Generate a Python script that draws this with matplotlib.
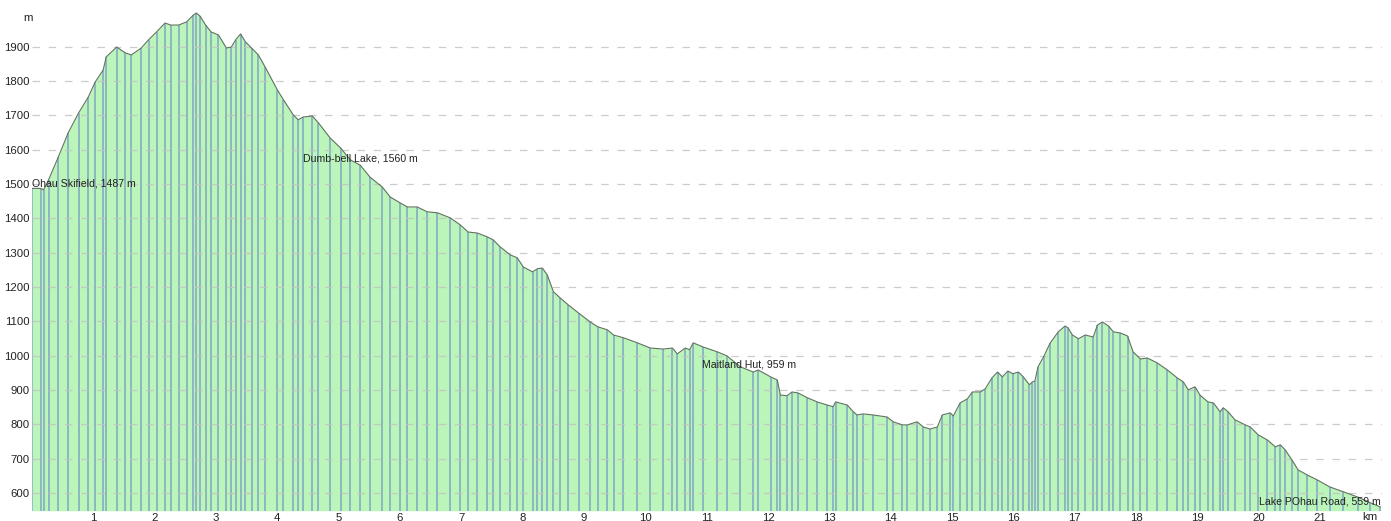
import matplotlib
matplotlib.use('Agg')
import matplotlib.pyplot as plt

plt.rcParams['font.family'] = ['Liberation Sans', 'DejaVu Sans']

# Profil: Distanz (km) und Höhe (m)
dist_km = [0.0, 0.14, 0.19, 0.27, 0.43, 0.59, 0.76, 0.92, 1.03, 1.16,
           1.21, 1.38, 1.52, 1.62, 1.78, 1.90, 2.03, 2.17, 2.26, 2.39,
           2.52, 2.63, 2.68, 2.74, 2.83, 2.92, 3.04, 3.17, 3.25, 3.32,
           3.40, 3.48, 3.58, 3.69, 3.80, 4.00, 4.10, 4.26, 4.34, 4.42,
           4.57, 4.67, 4.86, 5.03, 5.19, 5.35, 5.51, 5.71, 5.84, 6.00,
           6.12, 6.28, 6.44, 6.61, 6.82, 6.98, 7.11, 7.26, 7.42, 7.52,
           7.63, 7.80, 7.91, 8.01, 8.16, 8.24, 8.32, 8.40, 8.50, 8.61,
           8.74, 8.91, 9.10, 9.22, 9.38, 9.48, 9.64, 9.87, 10.08, 10.29,
           10.44, 10.52, 10.65, 10.72, 10.78, 10.94, 11.17, 11.33, 11.55, 11.76,
           11.84, 12.04, 12.15, 12.20, 12.31, 12.39, 12.49, 12.64, 12.80, 12.96,
           13.06, 13.10, 13.29, 13.39, 13.45, 13.55, 13.71, 13.94, 14.04, 14.19,
           14.27, 14.43, 14.53, 14.64, 14.76, 14.84, 14.97, 15.02, 15.13, 15.25,
           15.33, 15.46, 15.54, 15.65, 15.74, 15.82, 15.91, 15.99, 16.08, 16.16,
           16.26, 16.31, 16.35, 16.40, 16.49, 16.60, 16.73, 16.84, 16.89, 16.96,
           17.06, 17.17, 17.30, 17.37, 17.45, 17.55, 17.63, 17.74, 17.86, 17.95,
           18.07, 18.18, 18.34, 18.51, 18.67, 18.77, 18.85, 18.96, 19.04, 19.17,
           19.26, 19.37, 19.42, 19.50, 19.61, 19.78, 19.86, 19.99, 20.14, 20.27,
           20.35, 20.43, 20.54, 20.64, 20.79, 20.95, 21.16, 21.38, 21.61, 21.82,
           21.98]
elev_m = [1487, 1487, 1483, 1512, 1579, 1649, 1707, 1754, 1797, 1832,
          1870, 1899, 1882, 1876, 1896, 1920, 1943, 1969, 1963, 1963,
          1972, 1992, 1998, 1989, 1963, 1943, 1934, 1896, 1899, 1920,
          1937, 1914, 1896, 1876, 1841, 1774, 1745, 1701, 1687, 1695,
          1698, 1678, 1634, 1605, 1570, 1555, 1520, 1491, 1462, 1445,
          1433, 1433, 1419, 1416, 1401, 1381, 1360, 1357, 1346, 1337,
          1317, 1293, 1285, 1258, 1244, 1253, 1255, 1235, 1186, 1168,
          1148, 1124, 1098, 1084, 1075, 1060, 1052, 1037, 1022, 1019,
          1022, 1005, 1022, 1017, 1037, 1025, 1011, 999, 967, 952,
          958, 938, 929, 885, 883, 894, 891, 877, 865, 856,
          851, 865, 856, 836, 827, 830, 827, 821, 807, 798,
          798, 807, 792, 786, 792, 827, 833, 824, 862, 874,
          894, 894, 903, 935, 952, 938, 955, 947, 952, 938,
          915, 923, 926, 967, 996, 1037, 1069, 1086, 1081, 1060,
          1049, 1060, 1054, 1089, 1098, 1086, 1069, 1066, 1057, 1011,
          990, 993, 979, 958, 935, 923, 900, 909, 885, 865,
          862, 836, 848, 836, 813, 798, 792, 769, 754, 734,
          740, 725, 696, 667, 652, 638, 617, 603, 588, 571,
          559]

# Wegpunkte mit Beschriftung
wp_names = ['Ohau Skifield, 1487 m', 'Dumb-bell Lake, 1560 m',
            'Maitland Hut, 959 m', 'Lake POhau Road, 559 m']
wp_km = [0.0, 4.41, 10.93, 21.98]
wp_m = [1487, 1560, 959, 559]
wp_ha = ['left', 'left', 'left', 'right']

y_ticks = list(range(600, 2000, 100))
x_ticks = list(range(1, 22))

y_bottom, y_top = 548, 2036

fig = plt.figure(figsize=(13.91, 5.21), dpi=100, facecolor='white')
ax = fig.add_axes([32 / 1391, 10.3 / 521, 1349.5 / 1391, 510.7 / 521])

ax.fill_between(dist_km, elev_m, y_bottom, color='#bbf5b9', lw=0, zorder=1)
ax.vlines(dist_km, y_bottom, elev_m, color='#6e8cc4', lw=1.1, alpha=0.75, zorder=2)
ax.plot(dist_km, elev_m, color='#5f735f', lw=0.8, zorder=3)

for name, x, y, ha in zip(wp_names, wp_km, wp_m, wp_ha):
    ax.text(x, y, name, ha=ha, va='bottom', fontsize=7.6, color='#222222', zorder=5)

ax.set_xlim(0, 22)
ax.set_ylim(y_bottom, y_top)
ax.set_xticks(x_ticks)
ax.set_yticks(y_ticks)
ax.tick_params(length=0, labelsize=8.2, labelcolor='#222222', pad=2)
ax.yaxis.grid(True, color='#c4c4c4', linestyle=(0, (6, 7)), lw=0.9, alpha=0.85, zorder=4)
ax.set_axisbelow(False)
for s in ax.spines.values():
    s.set_visible(False)

fig.text(28 / 1391, 1 - 18 / 521, 'm', ha='center', va='center', fontsize=8.2, color='#222222')
fig.text(1370 / 1391, 1 - 517 / 521, 'km', ha='center', va='center', fontsize=8.2, color='#222222')

fig.savefig('out.png', dpi=100)
